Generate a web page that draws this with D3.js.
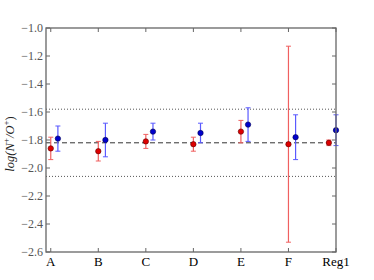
<!DOCTYPE html>
<html>
<head>
<style>
  body { margin: 0; background: #fff; }
  svg text { font-family: "Liberation Serif", "DejaVu Serif", serif; }
</style>
</head>
<body>
<div id="chart"></div>
<script src="https://d3js.org/d3.v7.min.js"></script>
<script>
// data
var categories = ["A", "B", "C", "D", "E", "F", "Reg1"];
var redPos = [0, 1, 2, 3, 4, 5, 5.85];
var redVal = [-1.86, -1.88, -1.81, -1.83, -1.74, -1.83, -1.82];
var redErr = [0.08, 0.07, 0.05, 0.05, 0.08, 0.70, 0.02];
var bluePos = [0.15, 1.15, 2.15, 3.15, 4.15, 5.15, 6.0];
var blueVal = [-1.79, -1.80, -1.74, -1.75, -1.69, -1.78, -1.73];
var blueErr = [0.09, 0.12, 0.06, 0.07, 0.12, 0.16, 0.11];
var meanLine = -1.82;
var bandLines = [-1.58, -2.06];
var yTicks = [-1.0, -1.2, -1.4, -1.6, -1.8, -2.0, -2.2, -2.4, -2.6];

var width = 374, height = 280;
var margin = {left: 46, right: 38, top: 28, bottom: 28};

var svg = d3.select("#chart").append("svg")
    .attr("width", width)
    .attr("height", height);

var x = d3.scaleLinear().domain([-0.1, 6.0]).range([margin.left, width - margin.right]);
var y = d3.scaleLinear().domain([-2.6, -1.0]).range([height - margin.bottom, margin.top]);

var x0 = x.range()[0], x1 = x.range()[1], y0 = y.range()[0], y1 = y.range()[1];

// reference lines
svg.append("line")
    .attr("x1", x0).attr("x2", x1)
    .attr("y1", y(meanLine)).attr("y2", y(meanLine))
    .attr("stroke", "#333").attr("stroke-width", 1)
    .attr("stroke-dasharray", "5,3");

svg.selectAll(".band")
    .data(bandLines)
    .enter().append("line")
    .attr("x1", x0).attr("x2", x1)
    .attr("y1", function(d) { return y(d); })
    .attr("y2", function(d) { return y(d); })
    .attr("stroke", "#555").attr("stroke-width", 1)
    .attr("stroke-dasharray", "1,2");

// error bars + points
function drawSeries(pos, val, err, barColor, fill, edge) {
    var g = svg.append("g");
    var d = pos.map(function(p, i) { return {x: p, v: val[i], e: err[i]}; });
    g.selectAll(".eb").data(d).enter().append("line")
        .attr("x1", function(d) { return x(d.x); })
        .attr("x2", function(d) { return x(d.x); })
        .attr("y1", function(d) { return y(d.v + d.e); })
        .attr("y2", function(d) { return y(d.v - d.e); })
        .attr("stroke", barColor).attr("stroke-width", 1.2);
    [1, -1].forEach(function(s) {
        g.selectAll(".cap" + s).data(d).enter().append("line")
            .attr("x1", function(d) { return x(d.x) - 2.5; })
            .attr("x2", function(d) { return x(d.x) + 2.5; })
            .attr("y1", function(d) { return y(d.v + s * d.e); })
            .attr("y2", function(d) { return y(d.v + s * d.e); })
            .attr("stroke", barColor).attr("stroke-width", 1);
    });
    g.selectAll("circle").data(d).enter().append("circle")
        .attr("cx", function(d) { return x(d.x); })
        .attr("cy", function(d) { return y(d.v); })
        .attr("r", 2.7)
        .attr("fill", fill)
        .attr("stroke", edge).attr("stroke-width", 0.6);
}
drawSeries(redPos, redVal, redErr, "#f06060", "#dd0000", "#600000");
drawSeries(bluePos, blueVal, blueErr, "#5a5aff", "#0000cc", "#000050");

// frame
svg.append("rect")
    .attr("x", x0).attr("y", y1)
    .attr("width", x1 - x0).attr("height", y0 - y1)
    .attr("fill", "none").attr("stroke", "#666").attr("stroke-width", 1.3);

// y ticks (both sides, inward)
var tickStroke = "#666";
yTicks.forEach(function(t) {
    svg.append("line").attr("x1", x0).attr("x2", x0 + 4)
        .attr("y1", y(t)).attr("y2", y(t)).attr("stroke", tickStroke);
    svg.append("line").attr("x1", x1).attr("x2", x1 - 4)
        .attr("y1", y(t)).attr("y2", y(t)).attr("stroke", tickStroke);
    svg.append("text")
        .attr("x", x0 - 3).attr("y", y(t) + 4)
        .attr("text-anchor", "end")
        .attr("font-size", 12)
        .attr("fill", "#555")
        .text("\u2212" + Math.abs(t).toFixed(1));
});

// x ticks (both sides, inward)
categories.forEach(function(c, i) {
    svg.append("line").attr("x1", x(i)).attr("x2", x(i))
        .attr("y1", y0).attr("y2", y0 - 4).attr("stroke", tickStroke);
    svg.append("line").attr("x1", x(i)).attr("x2", x(i))
        .attr("y1", y1).attr("y2", y1 + 4).attr("stroke", tickStroke);
    svg.append("text")
        .attr("x", x(i)).attr("y", y0 + 14)
        .attr("text-anchor", "middle")
        .attr("font-size", 13)
        .attr("fill", "#000")
        .text(c);
});

// y label
var lab = svg.append("text")
    .attr("transform", "translate(14," + ((y0 + y1) / 2 + 4) + ") rotate(-90)")
    .attr("text-anchor", "middle")
    .attr("font-size", 12.5)
    .attr("font-style", "italic")
    .attr("fill", "#222");
lab.append("tspan").text("log(N");
lab.append("tspan").attr("dy", -5).attr("font-size", 9).attr("font-style", "normal").text("+");
lab.append("tspan").attr("dy", 5).text("/O");
lab.append("tspan").attr("dy", -5).attr("font-size", 9).attr("font-style", "normal").text("+");
lab.append("tspan").attr("dy", 5).attr("font-style", "normal").text(")");
</script>
</body>
</html>
